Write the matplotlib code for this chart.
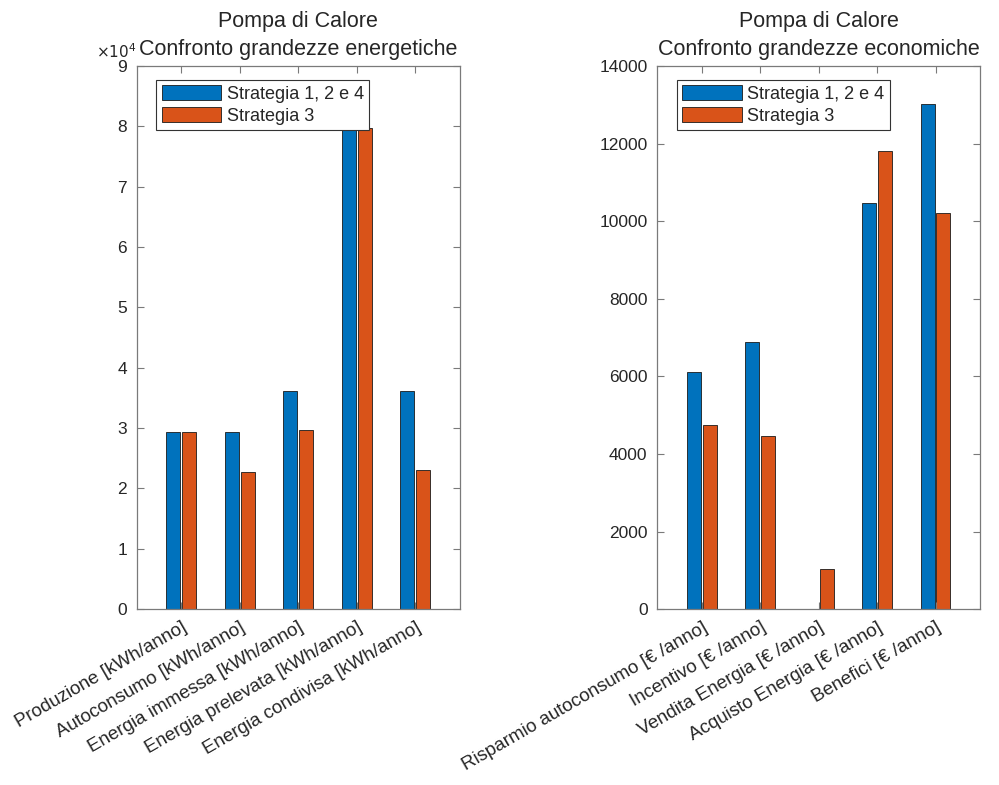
import matplotlib
matplotlib.use('Agg')
import matplotlib.pyplot as plt
import numpy as np

plt.rcParams['font.family'] = ['Liberation Sans', 'DejaVu Sans']

# Data
cat_energia = ['Produzione [kWh/anno]', 'Autoconsumo [kWh/anno]', 'Energia immessa [kWh/anno]',
               'Energia prelevata [kWh/anno]', 'Energia condivisa [kWh/anno]']
energia_s124 = [29350, 29350, 36150, 79500, 36100]
energia_s3 = [29350, 22700, 29700, 79700, 23000]

cat_economia = ['Risparmio autoconsumo [€ /anno]', 'Incentivo [€ /anno]', 'Vendita Energia [€ /anno]',
                'Acquisto Energia [€ /anno]', 'Benefici [€ /anno]']
economia_s124 = [6110, 6880, 0, 10470, 13020]
economia_s3 = [4740, 4460, 1030, 11810, 10210]

series_names = ['Strategia 1, 2 e 4', 'Strategia 3']
blue = '#0072BD'
orange = '#D95319'
txt = '#262626'
axc = '#7a7a7a'

fig = plt.figure(figsize=(9.99, 7.85), dpi=100)
ax1 = fig.add_axes([0.137, 0.224, 0.323, 0.692])
ax2 = fig.add_axes([0.658, 0.224, 0.323, 0.692])


def draw(ax, cats, s1, s2, scale, ymax, yticks, title):
    x = np.arange(1, len(cats) + 1)
    w = 0.24
    ax.bar(x - 0.135, np.array(s1) / scale, w, color=blue, edgecolor='#1a1a1a', linewidth=0.6,
           label=series_names[0])
    ax.bar(x + 0.135, np.array(s2) / scale, w, color=orange, edgecolor='#1a1a1a', linewidth=0.6,
           label=series_names[1])
    ax.set_xlim(0.24, 5.76)
    ax.set_ylim(0, ymax)
    ax.set_yticks(yticks)
    ax.set_xticks(x)
    ax.set_xticklabels(cats, rotation=30, ha='right', rotation_mode='anchor', fontsize=13.5,
                       color=txt)
    ax.tick_params(axis='both', direction='in', top=True, right=True, length=5, width=0.8,
                   color=axc, labelcolor=txt)
    ax.tick_params(axis='y', labelsize=12.5, pad=7)
    ax.tick_params(axis='x', pad=7)
    for s in ax.spines.values():
        s.set_color(axc)
        s.set_linewidth(0.9)
    ax.set_title(title, fontsize=15.5, color=txt, linespacing=1.45, pad=8)
    leg = ax.legend(loc='upper left', bbox_to_anchor=(0.06, 0.975), fontsize=13, frameon=True,
                    fancybox=False, framealpha=1, edgecolor='#333333', handlelength=3.3,
                    handleheight=0.9, handletextpad=0.3, borderpad=0.3, labelspacing=0.25,
                    borderaxespad=0)
    leg.get_frame().set_linewidth(0.8)
    for t in leg.get_texts():
        t.set_color(txt)


draw(ax1, cat_energia, energia_s124, energia_s3, 1e4, 9, range(0, 10),
     'Pompa di Calore\nConfronto grandezze energetiche')
draw(ax2, cat_economia, economia_s124, economia_s3, 1, 14000, range(0, 14001, 2000),
     'Pompa di Calore\nConfronto grandezze economiche')

# axis multiplier (MATLAB-style exponent label)
ax1.text(0.0, 1.01, r'$\times10^4$', transform=ax1.transAxes, fontsize=11, color=txt,
         ha='right', va='bottom')

fig.savefig('out.png', dpi=100)
